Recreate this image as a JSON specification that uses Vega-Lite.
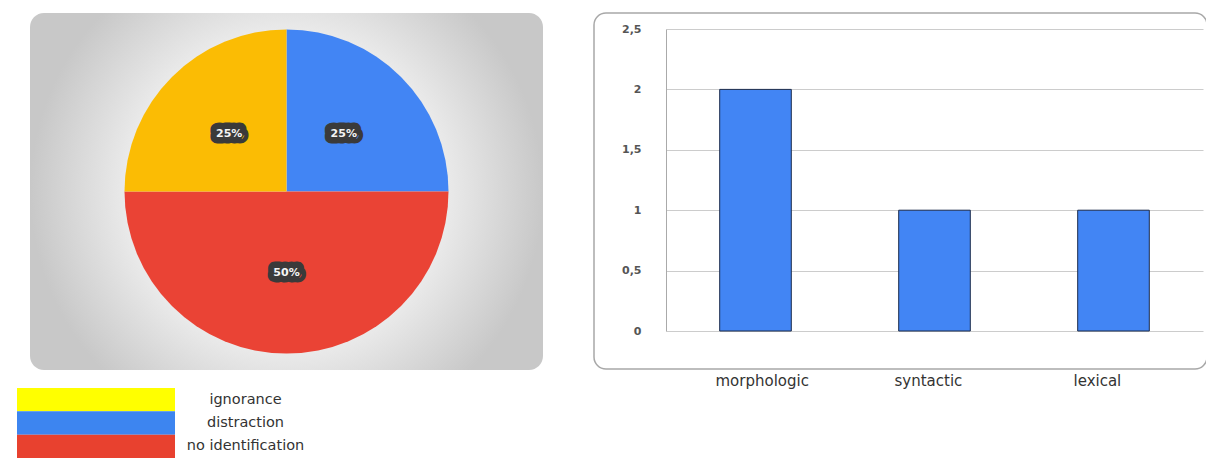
{
  "$schema": "https://vega.github.io/schema/vega-lite/v6.json",
  "padding": {"left": 17, "top": 12, "right": 0, "bottom": 0},
  "background": "white",
  "spacing": 50,
  "config": {
    "font": "DejaVu Sans",
    "view": {"stroke": null}
  },
  "hconcat": [
    {
      "width": 513,
      "height": 357,
      "view": {
        "fill": {
          "gradient": "radial",
          "stops": [
            {"offset": 0, "color": "#ffffff"},
            {"offset": 0.55, "color": "#f1f1f1"},
            {"offset": 1, "color": "#c8c8c8"}
          ]
        },
        "cornerRadius": 14,
        "stroke": null
      },
      "resolve": {"scale": {"color": "independent"}},
      "layer": [
        {
          "data": {
            "values": [
              {"cause": "distraction", "share": 0.25, "k": 1},
              {"cause": "no identification", "share": 0.5, "k": 2},
              {"cause": "ignorance", "share": 0.25, "k": 3}
            ]
          },
          "encoding": {
            "theta": {"field": "share", "type": "quantitative", "stack": true},
            "order": {"field": "k", "type": "quantitative"}
          },
          "layer": [
            {
              "mark": {"type": "arc", "outerRadius": 162},
              "encoding": {
                "color": {
                  "field": "cause",
                  "type": "nominal",
                  "scale": {
                    "domain": ["distraction", "no identification", "ignorance"],
                    "range": ["#4285f4", "#ea4335", "#fbbc04"]
                  },
                  "legend": null
                }
              }
            },
            {
              "mark": {
                "type": "text",
                "radius": 81,
                "fill": "#3a3a3a",
                "stroke": "#3a3a3a",
                "strokeWidth": 13,
                "strokeJoin": "round",
                "fontSize": 11,
                "fontWeight": "bold"
              },
              "encoding": {
                "detail": {"field": "cause", "type": "nominal"},
                "text": {"field": "share", "type": "quantitative", "format": ".0%"}
              }
            },
            {
              "mark": {
                "type": "text",
                "radius": 81,
                "fill": "#f4f4f4",
                "fontSize": 11,
                "fontWeight": "bold"
              },
              "encoding": {
                "detail": {"field": "cause", "type": "nominal"},
                "text": {"field": "share", "type": "quantitative", "format": ".0%"}
              }
            }
          ]
        },
        {
          "data": {
            "values": [
              {"cause": "ignorance", "swatch": "legend"},
              {"cause": "distraction", "swatch": "legend"},
              {"cause": "no identification", "swatch": "legend"}
            ]
          },
          "mark": {"type": "rect", "clip": false},
          "encoding": {
            "x": {
              "field": "swatch",
              "type": "nominal",
              "scale": {"range": [-13, 145], "paddingInner": 0, "paddingOuter": 0},
              "axis": null
            },
            "y": {
              "field": "cause",
              "type": "nominal",
              "sort": ["ignorance", "distraction", "no identification"],
              "scale": {"range": [375, 445], "paddingInner": 0, "paddingOuter": 0},
              "axis": {
                "orient": "right",
                "offset": -368,
                "title": null,
                "domain": false,
                "ticks": false,
                "labelAlign": "center",
                "labelPadding": 70,
                "labelFontSize": 14.5,
                "labelColor": "#333333"
              }
            },
            "color": {
              "field": "cause",
              "type": "nominal",
              "scale": {
                "domain": ["ignorance", "distraction", "no identification"],
                "range": ["#ffff00", "#3d85f0", "#e8412f"]
              },
              "legend": null
            }
          }
        }
      ]
    },
    {
      "width": 613,
      "height": 356,
      "view": {"fill": "white", "stroke": "#a8a8a8", "strokeWidth": 1.5, "cornerRadius": 12},
      "data": {
        "values": [
          {"type": "morphologic", "n": 2},
          {"type": "syntactic", "n": 1},
          {"type": "lexical", "n": 1}
        ]
      },
      "mark": {"type": "bar", "fill": "#4285f4", "stroke": "#1c2c4c", "strokeWidth": 1},
      "encoding": {
        "x": {
          "field": "type",
          "type": "nominal",
          "sort": null,
          "scale": {"range": [72, 609], "paddingInner": 0.6, "paddingOuter": 0.3},
          "axis": {
            "title": null,
            "domain": false,
            "ticks": false,
            "grid": false,
            "labelAngle": 0,
            "labelAlign": "left",
            "labelOffset": -40,
            "labelPadding": 4,
            "labelBaseline": "top",
            "labelFontSize": 15,
            "labelColor": "#333333"
          }
        },
        "y": {
          "field": "n",
          "type": "quantitative",
          "scale": {"domain": [0, 2.5], "range": [318, 16], "nice": false},
          "axis": {
            "title": null,
            "values": [0, 0.5, 1, 1.5, 2, 2.5],
            "format": "~g",
            "labelExpr": "replace(datum.label, '.', ',')",
            "offset": -72,
            "ticks": false,
            "labelPadding": 25,
            "grid": true,
            "gridColor": "#cccccc",
            "domainColor": "#aaaaaa",
            "labelFontSize": 11,
            "labelFontWeight": "bold",
            "labelColor": "#555555"
          }
        }
      }
    }
  ]
}
